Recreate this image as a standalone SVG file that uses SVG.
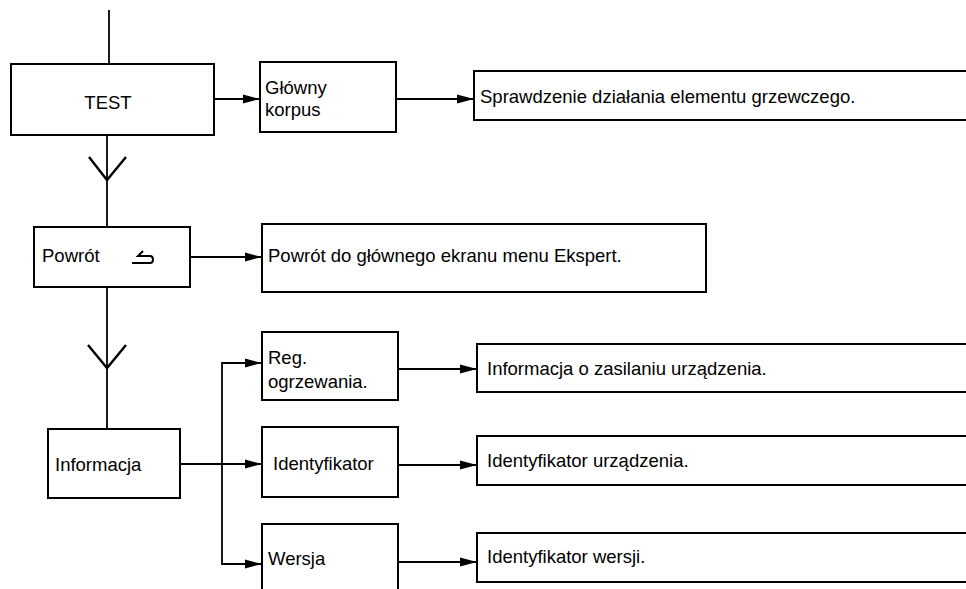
<svg xmlns="http://www.w3.org/2000/svg" width="966" height="589" viewBox="0 0 966 589">
<style>
.box{fill:#fff;stroke:#000;stroke-width:2}
.ln{fill:none;stroke:#000;stroke-width:1.8}
.ar{fill:none;stroke:#000;stroke-width:1.8;marker-end:url(#ah)}
.chev{fill:none;stroke:#000;stroke-width:2.4}
text{font-family:"Liberation Sans",Arial,sans-serif;font-size:18.5px;fill:#000}
</style>
<defs>
<marker id="ah" viewBox="0 0 17 11" refX="17" refY="5.5" markerWidth="17" markerHeight="11" markerUnits="userSpaceOnUse" orient="auto">
<path d="M0,1 L17,5.5 L0,10 Z" fill="#000"/>
</marker>
</defs>
<g id="connectors">
<line class="ln" x1="109" y1="10" x2="109" y2="64"/>
<line class="ln" x1="107" y1="135" x2="107" y2="227"/>
<polyline class="chev" points="89,157 107,180 126,157"/>
<line class="ln" x1="107" y1="287" x2="107" y2="429"/>
<polyline class="chev" points="88,345 107,368 126,345"/>
<line class="ar" x1="214" y1="99" x2="260" y2="99"/>
<line class="ar" x1="396" y1="99" x2="474" y2="99"/>
<line class="ar" x1="190" y1="257" x2="262" y2="257"/>
<line class="ar" x1="180" y1="464" x2="262" y2="464"/>
<polyline class="ar" points="222,464 222,363 262,363"/>
<polyline class="ar" points="222,464 222,564 262,564"/>
<line class="ar" x1="398" y1="369" x2="477" y2="369"/>
<line class="ar" x1="398" y1="465" x2="477" y2="465"/>
<line class="ar" x1="398" y1="562" x2="477" y2="562"/>
</g>
<g id="test"><rect class="box" x="11" y="64" width="203" height="71"/><text x="108" y="109" text-anchor="middle">TEST</text></g>
<g id="glowny"><rect class="box" x="260" y="62" width="136" height="70"/><text x="265" y="94">Główny</text><text x="265" y="116">korpus</text></g>
<g id="sprawdzenie"><rect class="box" x="474" y="71" width="500" height="49"/><text x="480" y="103">Sprawdzenie działania elementu grzewczego.</text></g>
<g id="powrot"><rect class="box" x="34" y="227" width="156" height="60"/><text x="42" y="262">Powrót</text>
<path d="M132,263 L150,263 Q153,263 153,259.5 Q153,256 150,256 L138,256 L143,251" fill="none" stroke="#000" stroke-width="2"/></g>
<g id="powrot-desc"><rect class="box" x="262" y="224" width="444" height="68"/><text x="268" y="262">Powrót do głównego ekranu menu Ekspert.</text></g>
<g id="informacja"><rect class="box" x="48" y="429" width="132" height="69"/><text x="55" y="471">Informacja</text></g>
<g id="reg"><rect class="box" x="262" y="332" width="136" height="68"/><text x="268" y="364">Reg.</text><text x="268" y="388">ogrzewania.</text></g>
<g id="ident"><rect class="box" x="262" y="427" width="136" height="70"/><text x="273" y="470">Identyfikator</text></g>
<g id="wersja"><rect class="box" x="262" y="524" width="136" height="80"/><text x="268" y="565">Wersja</text></g>
<g id="reg-desc"><rect class="box" x="477" y="344" width="500" height="48"/><text x="487" y="375">Informacja o zasilaniu urządzenia.</text></g>
<g id="ident-desc"><rect class="box" x="477" y="436" width="500" height="49"/><text x="487" y="467">Identyfikator urządzenia.</text></g>
<g id="wersja-desc"><rect class="box" x="477" y="533" width="500" height="49"/><text x="487" y="563">Identyfikator wersji.</text></g>
</svg>
